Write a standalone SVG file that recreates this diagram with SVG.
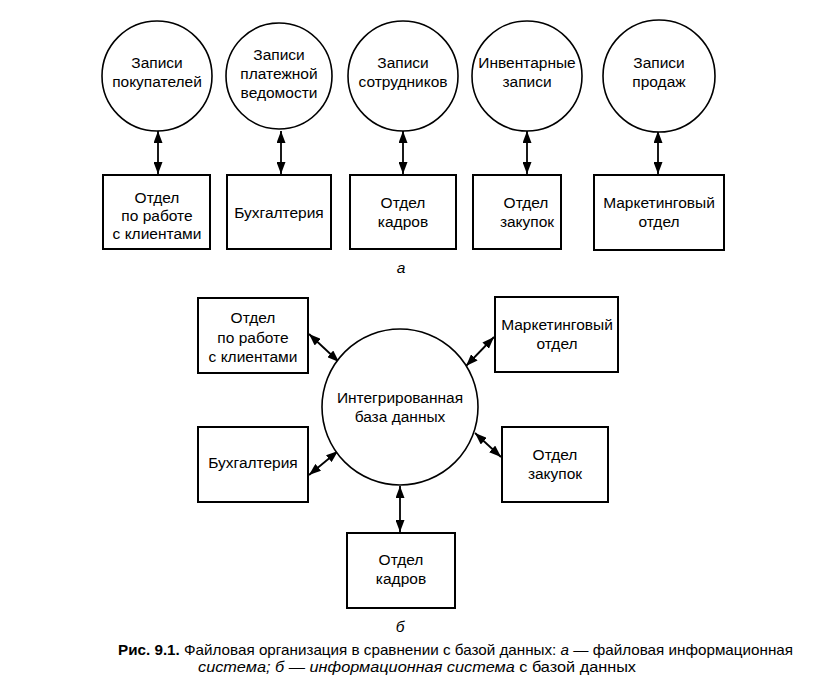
<svg xmlns="http://www.w3.org/2000/svg" width="814" height="689" viewBox="0 0 814 689">
<style>
text{font-family:"Liberation Sans",Arial,sans-serif;font-size:15.5px;fill:#000;text-anchor:middle}
.c{fill:#fff;stroke:#000;stroke-width:1.6}
.b{fill:#fff;stroke:#000;stroke-width:2}
.a{stroke:#000;stroke-width:1.8;fill:none;marker-start:url(#ah);marker-end:url(#ah)}
.i{font-style:italic}
.cap{font-size:14.5px;text-anchor:start}
</style>
<defs>
<marker id="ah" viewBox="0 0 12 9" refX="12" refY="4.5" markerWidth="12" markerHeight="9" markerUnits="userSpaceOnUse" orient="auto-start-reverse">
<path d="M0,0 L12,4.5 L0,9 Z" fill="#000"/>
</marker>
</defs>
<rect width="814" height="689" fill="#fff"/>
<g id="connectors">
<line class="a" x1="158" y1="131" x2="158" y2="174"/>
<line class="a" x1="281" y1="131" x2="281" y2="174"/>
<line class="a" x1="403" y1="131" x2="403" y2="174"/>
<line class="a" x1="527" y1="131" x2="527" y2="174"/>
<line class="a" x1="658" y1="131" x2="658" y2="174"/>
<line class="a" x1="309" y1="334" x2="339" y2="362"/>
<line class="a" x1="494" y1="337" x2="466" y2="366"/>
<line class="a" x1="309" y1="475" x2="338" y2="451"/>
<line class="a" x1="475" y1="433" x2="501" y2="457"/>
<line class="a" x1="400" y1="486" x2="400" y2="532"/>
</g>
<g id="c1"><circle class="c" cx="157" cy="76" r="55"/><text x="157" y="68">Записи</text><text x="157" y="87">покупателей</text></g>
<g id="c2"><circle class="c" cx="279" cy="76" r="53"/><text x="279" y="60">Записи</text><text x="279" y="79">платежной</text><text x="279" y="98">ведомости</text></g>
<g id="c3"><circle class="c" cx="403" cy="76" r="55"/><text x="403" y="68">Записи</text><text x="403" y="87">сотрудников</text></g>
<g id="c4"><circle class="c" cx="527" cy="76" r="55"/><text x="527" y="68">Инвентарные</text><text x="527" y="87">записи</text></g>
<g id="c5"><circle class="c" cx="659" cy="76" r="56"/><text x="659" y="68">Записи</text><text x="659" y="87">продаж</text></g>
<g id="t1"><rect class="b" x="103" y="175" width="107" height="74"/><text x="157" y="203">Отдел</text><text x="157" y="221">по работе</text><text x="157" y="239">с клиентами</text></g>
<g id="t2"><rect class="b" x="227" y="175" width="104" height="74"/><text x="279" y="218">Бухгалтерия</text></g>
<g id="t3"><rect class="b" x="350" y="175" width="106" height="74"/><text x="403" y="208">Отдел</text><text x="403" y="227">кадров</text></g>
<g id="t4"><rect class="b" x="473" y="175" width="88" height="74"/><text x="526" y="208">Отдел</text><text x="527" y="227">закупок</text></g>
<g id="t5"><rect class="b" x="594" y="175" width="130" height="75"/><text x="659" y="208">Маркетинговый</text><text x="659" y="227">отдел</text></g>
<text class="i" x="401" y="273">а</text>
<g id="db"><circle class="c" cx="400" cy="407" r="78"/><text x="400" y="403">Интегрированная</text><text x="400" y="422">база данных</text></g>
<g id="b1"><rect class="b" x="198" y="298" width="110" height="75"/><text x="253" y="323">Отдел</text><text x="253" y="343">по работе</text><text x="253" y="362">с клиентами</text></g>
<g id="b2"><rect class="b" x="495" y="297" width="123" height="75"/><text x="557" y="330">Маркетинговый</text><text x="557" y="349">отдел</text></g>
<g id="b3"><rect class="b" x="198" y="427" width="110" height="75"/><text x="253" y="468">Бухгалтерия</text></g>
<g id="b4"><rect class="b" x="502" y="427" width="106" height="75"/><text x="555" y="460">Отдел</text><text x="555" y="479">закупок</text></g>
<g id="b5"><rect class="b" x="347" y="533" width="108" height="75"/><text x="401" y="565">Отдел</text><text x="401" y="584">кадров</text></g>
<text class="i" x="400" y="632">б</text>
<text class="cap" x="118" y="655" textLength="675" lengthAdjust="spacingAndGlyphs"><tspan font-weight="bold">Рис. 9.1.</tspan> Файловая организация в сравнении с базой данных: <tspan font-style="italic">а</tspan> — файловая информационная</text>
<text class="cap" x="198" y="672" textLength="438" lengthAdjust="spacingAndGlyphs"><tspan font-style="italic">система; б — информационная система</tspan> с базой данных</text>
</svg>
